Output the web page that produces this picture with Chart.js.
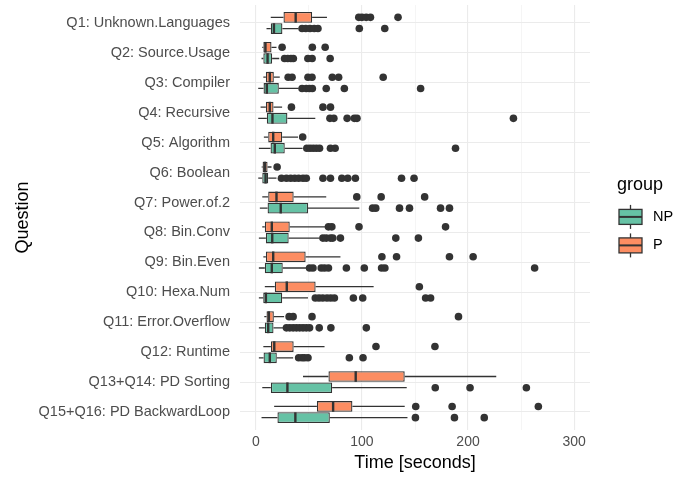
<!DOCTYPE html>
<html>
<head>
<meta charset="utf-8">
<script src="https://cdn.jsdelivr.net/npm/chart.js@4/dist/chart.umd.min.js"></script>
<style>
  html, body { margin: 0; padding: 0; background: #fff; }
</style>
</head>
<body>
<canvas id="boxChart" width="689" height="477"></canvas>
<script>
// questions, top to bottom
const questions = [
  "Q1: Unknown.Languages", "Q2: Source.Usage", "Q3: Compiler", "Q4: Recursive",
  "Q5: Algorithm", "Q6: Boolean", "Q7: Power.of.2", "Q8: Bin.Conv", "Q9: Bin.Even",
  "Q10: Hexa.Num", "Q11: Error.Overflow", "Q12: Runtime", "Q13+Q14: PD Sorting",
  "Q15+Q16: PD BackwardLoop"
];

const xTicks = [0, 50, 100, 150, 200, 250, 300];

// group P (orange)
const pLow  = [14, 6, 7, 4.4, 7.5, 5.5, 6, 6, 7, 8.4, 7.9, 7, 44.4, 17.2];
const pQ1   = [26, 7, 9.4, 9.4, 11.6, 6.3, 11.6, 8.4, 9.4, 17.8, 10, 14.1, 68.4, 57.5];
const pMed  = [37.5, 9, 13.1, 13.1, 16.3, 8.4, 19.4, 15, 16.3, 29.1, 12.2, 17.3, 94.1, 72.8];
const pQ3   = [53, 14.7, 16.9, 16.6, 24.8, 11, 35.6, 31.9, 46.9, 56.3, 16.9, 35.6, 140.3, 91];
const pHigh = [67, 19.4, 22.5, 24.7, 39.7, 14.7, 66.3, 66, 79.7, 111, 26.6, 64.7, 226.6, 140.3];
const pOut  = [
  [97, 100, 104, 108, 134],
  [24.7, 53.2, 65.3],
  [30.4, 34.1, 49.1, 52.9, 72, 78, 120],
  [33.5, 63.2, 70.3],
  [44.1],
  [20],
  [95.1, 118.1, 159.1],
  [68.4, 71.6, 97.2, 178.8],
  [118.8, 132.6, 182.5, 204.8],
  [154.1],
  [31.3, 35.1, 52.9, 191],
  [113.2, 168.8],
  [],
  [150.7, 185, 266.3]
];

// group NP (green)
const npLow  = [10, 5.3, 2.2, 2.2, 2.8, 2.2, 3.7, 2.8, 2.8, 2.8, 2.8, 2.8, 6, 5.3];
const npQ1   = [14, 7, 7.2, 10.3, 13.8, 6, 11, 9.4, 8.4, 6.9, 8.4, 7.2, 14.1, 20.3];
const npMed  = [17, 11, 10.3, 15.6, 17.8, 9.1, 23.4, 15.4, 15, 9.4, 11.6, 13.1, 29.7, 37.2];
const npQ3   = [25, 15.3, 21.6, 29.7, 27.2, 11.6, 49.1, 30.9, 25.3, 24.8, 16.6, 19.7, 71.9, 69.7];
const npHigh = [40, 22, 40.3, 56, 44, 19.4, 97.5, 60, 47.5, 49.1, 25.7, 35.1, 142.2, 142.9];
const npOut  = [
  [43.5, 47, 51, 55, 58.5, 97.5, 121.5],
  [27, 30, 33, 35.3, 49, 53, 70],
  [43.5, 47.5, 50.5, 53.2, 66.3, 83.4, 155.3],
  [69.8, 73.5, 86, 92.8, 95.3, 242.8],
  [48, 51, 54, 57, 60, 70.3, 74.7, 188.2],
  [24.1, 28.8, 32.8, 36.6, 40.3, 44.4, 47.5, 63.2, 70.3, 81, 86.6, 93.8, 137.3, 149.1],
  [110, 113, 135.4, 144.8, 174.1, 182.5],
  [63.2, 66.3, 70.3, 72.5, 79.7, 131.9, 153.2],
  [50.6, 53.8, 61.6, 64.7, 68.4, 85.3, 102.2, 118.5, 121.6, 262.8],
  [56, 59.5, 63, 67, 70.5, 74, 91.9, 100.7, 160, 164.7],
  [28.8, 31.9, 35.1, 38.2, 41.3, 44.4, 47.5, 50.6, 59.7, 70.7, 104.1],
  [40.3, 43.5, 45.9, 49.1, 88.1, 101],
  [169.1, 201.9, 255],
  [150.4, 187.2, 215.3]
];

const groupNames = ["NP", "P"];
const groupColors = { NP: "#66C2A5", P: "#FC8D62" };
const lineColor = "#333333";

const stats = {
  P:  { low: pLow,  med: pMed,  high: pHigh,  out: pOut },
  NP: { low: npLow, med: npMed, high: npHigh, out: npOut }
};

Chart.defaults.font.family = '"Liberation Sans", Arial, Helvetica, sans-serif';

// whiskers under the boxes, medians + outliers + legend on top
const boxParts = {
  id: 'boxParts',
  beforeDatasetsDraw(chart) {
    const ctx = chart.ctx, xs = chart.scales.x;
    ctx.save();
    ctx.strokeStyle = lineColor;
    ctx.lineWidth = 1.3;
    chart.data.datasets.forEach((ds, d) => {
      const s = stats[ds.label];
      chart.getDatasetMeta(d).data.forEach((bar, i) => {
        ctx.beginPath();
        ctx.moveTo(xs.getPixelForValue(s.low[i]), bar.y);
        ctx.lineTo(xs.getPixelForValue(ds.data[i].x[0]), bar.y);
        ctx.moveTo(xs.getPixelForValue(ds.data[i].x[1]), bar.y);
        ctx.lineTo(xs.getPixelForValue(s.high[i]), bar.y);
        ctx.stroke();
      });
    });
    ctx.restore();
  },
  afterDatasetsDraw(chart) {
    const ctx = chart.ctx, xs = chart.scales.x;
    ctx.save();
    chart.data.datasets.forEach((ds, d) => {
      const s = stats[ds.label];
      chart.getDatasetMeta(d).data.forEach((bar, i) => {
        const h = Math.abs(bar.height);
        const mx = xs.getPixelForValue(s.med[i]);
        ctx.strokeStyle = lineColor;
        ctx.lineWidth = 2.4;
        ctx.beginPath();
        ctx.moveTo(mx, bar.y - h / 2);
        ctx.lineTo(mx, bar.y + h / 2);
        ctx.stroke();
        ctx.fillStyle = lineColor;
        s.out[i].forEach(v => {
          ctx.beginPath();
          ctx.arc(xs.getPixelForValue(v), bar.y, 3.8, 0, Math.PI * 2);
          ctx.fill();
        });
      });
    });
    ctx.restore();
  },
  afterDraw(chart) {
    const ctx = chart.ctx;
    const left = chart.chartArea.right + 27;
    const midY = (chart.chartArea.top + chart.chartArea.bottom) / 2;
    ctx.save();
    ctx.fillStyle = "#000";
    ctx.textBaseline = "middle";
    ctx.textAlign = "left";
    ctx.font = '18px "Liberation Sans", Arial, sans-serif';
    ctx.fillText("group", left, midY - 32);
    groupNames.forEach((g, k) => {
      const cy = midY - 0.6 + k * 28.5;
      const bx = left + 2;
      // whisker
      ctx.strokeStyle = lineColor;
      ctx.lineWidth = 1.3;
      ctx.beginPath();
      ctx.moveTo(bx + 11.5, cy - 12);
      ctx.lineTo(bx + 11.5, cy + 12);
      ctx.stroke();
      // box
      ctx.fillStyle = groupColors[g];
      ctx.fillRect(bx, cy - 7.5, 23, 15);
      ctx.strokeRect(bx, cy - 7.5, 23, 15);
      // median
      ctx.lineWidth = 2;
      ctx.beginPath();
      ctx.moveTo(bx, cy);
      ctx.lineTo(bx + 23, cy);
      ctx.stroke();
      ctx.fillStyle = "#000";
      ctx.font = '14.5px "Liberation Sans", Arial, sans-serif';
      ctx.fillText(g, left + 36, cy);
    });
    ctx.restore();
  }
};

function makeDataset(name, q1, q3) {
  return {
    label: name,
    data: questions.map((q, i) => ({ y: i, x: [q1[i], q3[i]] })),
    backgroundColor: groupColors[name],
    borderColor: lineColor,
    borderWidth: 1.3,
    borderSkipped: false,
    categoryPercentage: 0.75,
    barPercentage: 0.95
  };
}

const ctx = document.getElementById("boxChart").getContext("2d");
new Chart(ctx, {
  type: 'bar',
  data: {
    datasets: [makeDataset("P", pQ1, pQ3), makeDataset("NP", npQ1, npQ3)]
  },
  options: {
    indexAxis: 'y',
    responsive: false,
    devicePixelRatio: 1,
    animation: false,
    layout: { padding: { top: 5, right: 99, left: 0, bottom: 0 } },
    plugins: { legend: { display: false }, tooltip: { enabled: false } },
    scales: {
      x: {
        type: 'linear',
        min: -15,
        max: 315,
        afterBuildTicks: s => { s.ticks = xTicks.map(v => ({ value: v })); },
        afterFit: s => { s.height = 47; s.paddingLeft = 0; s.paddingRight = 0; },
        ticks: {
          callback: v => (v % 100 === 0 ? v : ''),
          color: '#4D4D4D',
          font: { size: 14 },
          padding: 4,
          maxRotation: 0,
          autoSkip: false
        },
        grid: {
          color: c => (c.tick && c.tick.value % 100 === 0 ? '#EBEBEB' : '#F3F3F3'),
          lineWidth: c => (c.tick && c.tick.value % 100 === 0 ? 1.1 : 0.8),
          drawTicks: false
        },
        border: { display: false },
        title: {
          display: true,
          text: 'Time [seconds]',
          color: '#000',
          font: { size: 18 },
          padding: { top: 0, bottom: 3 }
        }
      },
      y: {
        type: 'linear',
        reverse: true,
        offset: false,
        min: -0.6,
        max: 13.6,
        afterBuildTicks: s => { s.ticks = questions.map((q, i) => ({ value: i })); },
        afterFit: s => { s.width = 240; s.paddingTop = 0; s.paddingBottom = 0; },
        ticks: {
          callback: v => questions[v],
          color: '#4D4D4D',
          font: { size: 14.5 },
          padding: 10,
          autoSkip: false
        },
        grid: { color: '#EBEBEB', lineWidth: 1.1, drawTicks: false, offset: false },
        border: { display: false },
        title: {
          display: true,
          text: 'Question',
          color: '#000',
          font: { size: 18 },
          padding: { top: 12, bottom: 0 }
        }
      }
    }
  },
  plugins: [boxParts]
});
</script>
</body>
</html>
